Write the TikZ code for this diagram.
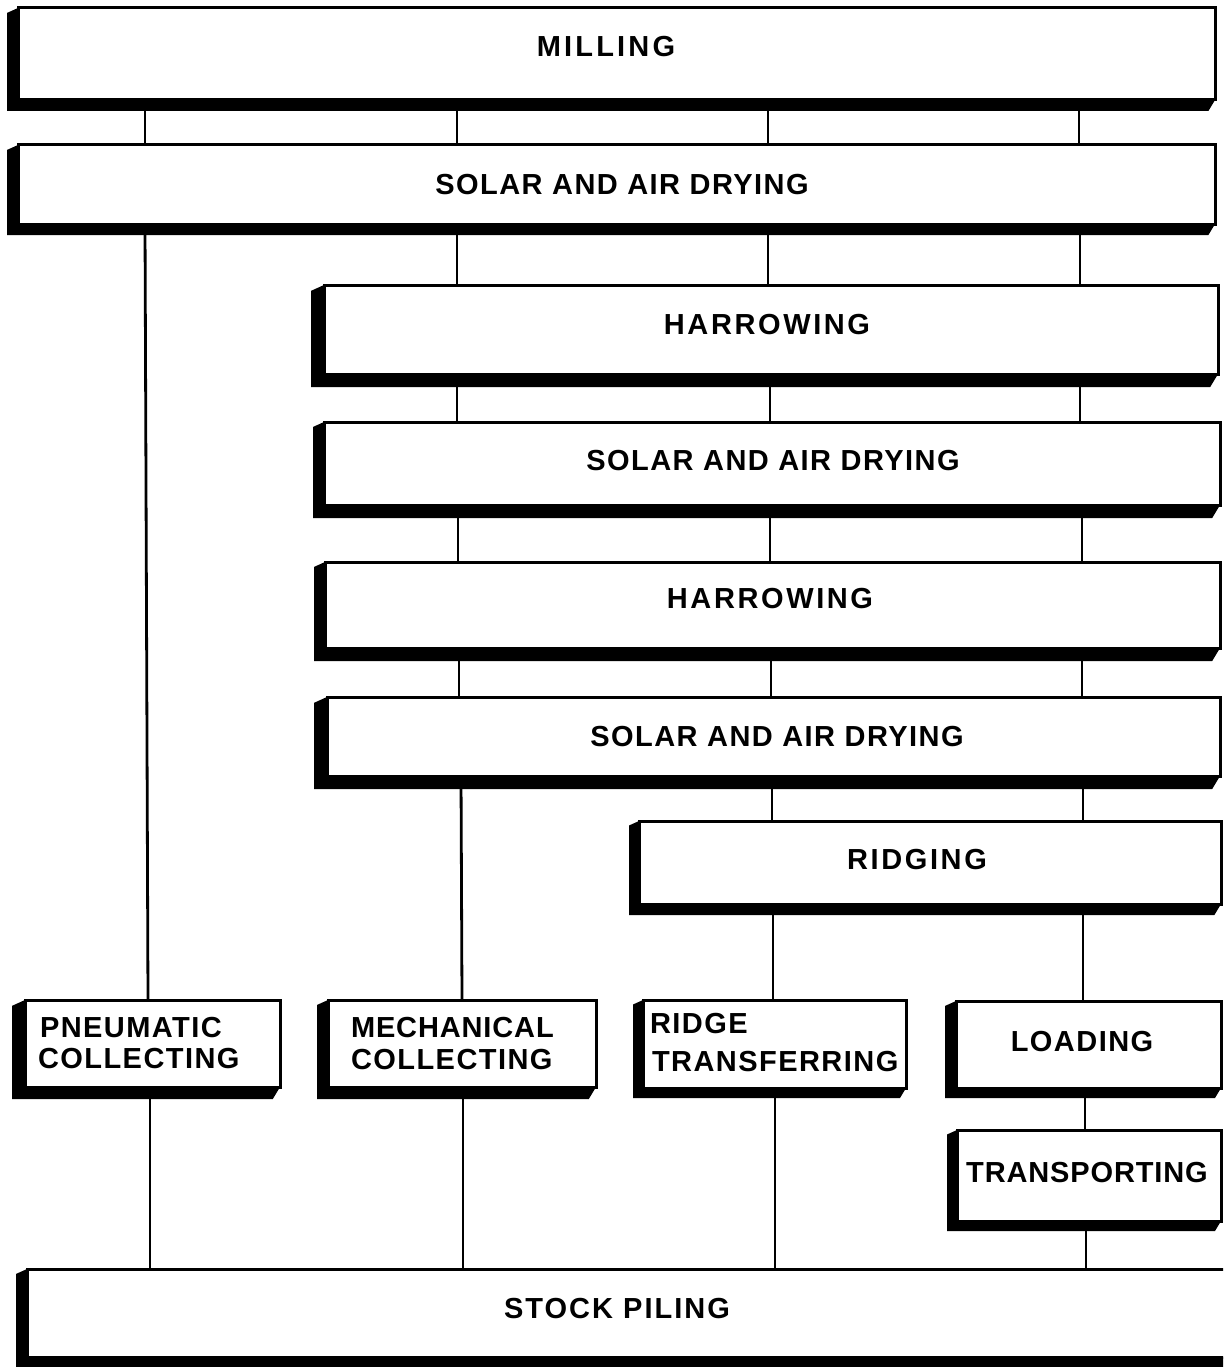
\documentclass[tikz,border=0pt]{standalone}
\usepackage{fontspec}
\setmainfont{Liberation Sans}
\newfontfamily\flowfont[LetterSpace=5]{Liberation Sans}
\usetikzlibrary{calc}

\tikzset{
  flowbox/.style={draw, line width=3pt, fill=white, inner sep=0pt, outer sep=0pt},
  link/.style={line width=2.8pt},
  flowtext/.style={inner sep=0pt, outer sep=0pt,
    font={\flowfont\bfseries\fontsize{29}{33}\selectfont}},
}

% #1 name, #2 left, #3 top, #4 right, #5 bottom, #6 left slab depth, #7 bottom slab depth
\newcommand\flowbox[7]{%
  \node[flowbox, minimum width={#4-#2}, minimum height={#5-#3}]
    (#1) at ({(#2+#4)/2},{(#3+#5)/2}) {};
  \fill (#1.north west) -- ++(-#6,0.45*#6)
    -- ($(#1.south west)+(-#6,#7)$)
    -- ($(#1.south east)+(-0.6*#7,#7)$)
    -- (#1.south east) -- (#1.south west) -- cycle;
}
% vertical connector from the bottom of #1 to the top of #2
\newcommand\flowlink[4]{%
  \draw[link] (#1.south -| #3,0) -- (#2.north -| #4,0);
}

\begin{document}
\begin{tikzpicture}[x=1pt,y=-1pt]
  \useasboundingbox (0,0) rectangle (1223,1367);
  \clip (0,0) rectangle (1223,1367);
  \fill[white] (0,0) rectangle (1223,1367);

  % process boxes
  \flowbox{mill}{18}{8}{1215}{100}{11}{11}
  \flowbox{sol1}{18}{145}{1215}{224}{11}{11}
  \flowbox{har1}{324}{285}{1218}{374}{13}{13}
  \flowbox{sol2}{324}{422}{1220}{505}{11}{13}
  \flowbox{har2}{325}{562}{1220}{648}{11}{13}
  \flowbox{sol3}{327}{697}{1220}{776}{13}{13}
  \flowbox{ridg}{639}{821}{1221}{904}{10}{11}
  \flowbox{pneu}{25}{1000}{280}{1087}{13}{12}
  \flowbox{mech}{328}{1000}{596}{1087}{11}{12}
  \flowbox{rtra}{643}{1000}{906}{1088}{10}{10}
  \flowbox{load}{956}{1001}{1221}{1088}{11}{10}
  \flowbox{trsp}{957}{1130}{1221}{1221}{10}{10}
  \flowbox{stock}{27}{1269}{1240}{1357}{11}{12}

  % labels
  \node[flowtext, anchor=base] (t-mill) at (606,57) {\addfontfeature{LetterSpace=11}MILLING};
  \node[flowtext, anchor=base] (t-sol1) at (622,194) {SOLAR AND AIR DRYING};
  \node[flowtext, anchor=base] (t-har1) at (767,334) {\addfontfeature{LetterSpace=9}HARROWING};
  \node[flowtext, anchor=base] (t-sol2) at (773,470) {SOLAR AND AIR DRYING};
  \node[flowtext, anchor=base] (t-har2) at (770,608) {\addfontfeature{LetterSpace=9}HARROWING};
  \node[flowtext, anchor=base] (t-sol3) at (777,746) {SOLAR AND AIR DRYING};
  \node[flowtext, anchor=base] (t-ridg) at (917,869) {\addfontfeature{LetterSpace=9}RIDGING};
  \node[flowtext, anchor=base west] (t-pneu1) at (40,1037) {PNEUMATIC};
  \node[flowtext, anchor=base west] (t-pneu2) at (38,1068) {COLLECTING};
  \node[flowtext, anchor=base west] (t-mech1) at (351,1037) {\addfontfeature{LetterSpace=3}MECHANICAL};
  \node[flowtext, anchor=base west] (t-mech2) at (351,1069) {COLLECTING};
  \node[flowtext, anchor=base west] (t-rtra1) at (650,1033) {RIDGE};
  \node[flowtext, anchor=base west] (t-rtra2) at (652,1071) {TRANSFERRING};
  \node[flowtext, anchor=base] (t-load) at (1082,1051) {LOADING};
  \node[flowtext, anchor=base] (t-trsp) at (1087,1182) {\addfontfeature{LetterSpace=3}TRANSPORTING};
  \node[flowtext, anchor=base] (t-stock) at (617,1318) {\addfontfeature{LetterSpace=7}STOCK PILING};

  % connectors
  \flowlink{mill}{sol1}{145}{145}
  \flowlink{mill}{sol1}{457}{457}
  \flowlink{mill}{sol1}{768}{768}
  \flowlink{mill}{sol1}{1079}{1079}
  \flowlink{sol1}{har1}{457}{457}
  \flowlink{sol1}{har1}{768}{768}
  \flowlink{sol1}{har1}{1080}{1080}
  \flowlink{sol1}{pneu}{145}{148}
  \flowlink{har1}{sol2}{457}{457}
  \flowlink{har1}{sol2}{770}{770}
  \flowlink{har1}{sol2}{1080}{1080}
  \flowlink{sol2}{har2}{458}{458}
  \flowlink{sol2}{har2}{770}{770}
  \flowlink{sol2}{har2}{1082}{1082}
  \flowlink{har2}{sol3}{459}{459}
  \flowlink{har2}{sol3}{771}{771}
  \flowlink{har2}{sol3}{1082}{1082}
  \flowlink{sol3}{mech}{461}{462}
  \flowlink{sol3}{ridg}{772}{772}
  \flowlink{sol3}{ridg}{1083}{1083}
  \flowlink{ridg}{rtra}{773}{773}
  \flowlink{ridg}{load}{1083}{1083}
  \flowlink{load}{trsp}{1085}{1085}
  \flowlink{pneu}{stock}{150}{150}
  \flowlink{mech}{stock}{463}{463}
  \flowlink{rtra}{stock}{775}{775}
  \flowlink{trsp}{stock}{1086}{1086}
\end{tikzpicture}
\end{document}
